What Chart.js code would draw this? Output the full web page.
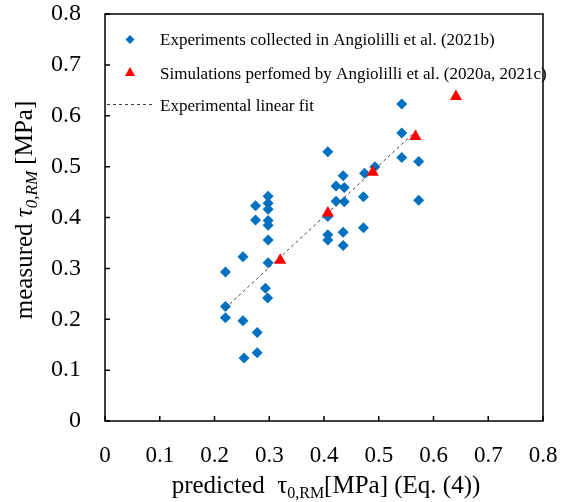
<!DOCTYPE html>
<html>
<head>
<meta charset="utf-8">
<script src="https://cdn.jsdelivr.net/npm/chart.js@4.4.0/dist/chart.umd.min.js"></script>
<style>
  html, body { margin: 0; padding: 0; background: #fff; }
  #wrap { width: 562px; height: 502px; }
</style>
</head>
<body>
<div id="wrap"><canvas id="chart"></canvas></div>
<script>
// values
const expX = [0.298, 0.275, 0.298, 0.298, 0.275, 0.298, 0.298, 0.298, 0.252, 0.298,
              0.220, 0.293, 0.297, 0.220, 0.220, 0.252, 0.278, 0.278, 0.254,
              0.542, 0.542, 0.407, 0.542, 0.573, 0.493, 0.474, 0.435, 0.422, 0.437,
              0.472, 0.422, 0.437, 0.573, 0.407, 0.472, 0.435, 0.407, 0.407, 0.435];
const expY = [0.442, 0.423, 0.428, 0.416, 0.395, 0.394, 0.385, 0.356, 0.323, 0.311,
              0.293, 0.261, 0.242, 0.225, 0.203, 0.197, 0.174, 0.134, 0.124,
              0.623, 0.566, 0.529, 0.518, 0.510, 0.500, 0.487, 0.482, 0.462, 0.459,
              0.441, 0.432, 0.431, 0.434, 0.402, 0.380, 0.371, 0.366, 0.356, 0.345];
const simX = [0.320, 0.407, 0.489, 0.567, 0.641];
const simY = [0.316, 0.409, 0.489, 0.559, 0.638];
const fitX = [0.220, 0.569];
const fitY = [0.222, 0.571];
const axisTicks = [0, 0.1, 0.2, 0.3, 0.4, 0.5, 0.6, 0.7, 0.8];

const legendLabels = [
  'Experiments collected in Angiolilli et al. (2021b)',
  'Simulations perfomed by Angiolilli et al. (2020a, 2021c)',
  'Experimental linear fit'
];

const SERIF = '"Liberation Serif", "Times New Roman", serif';
const BLUE = '#0070C0';
const RED = '#FF0000';

const toPoints = (xs, ys) => xs.map((x, i) => ({ x: x, y: ys[i] }));

// frame, inward ticks, legend and axis titles
const decorations = {
  id: 'decorations',
  afterDraw(chart) {
    const ctx = chart.ctx;
    const a = chart.chartArea;
    const xs = chart.scales.x;
    const ys = chart.scales.y;
    ctx.save();

    ctx.strokeStyle = '#000';
    ctx.lineWidth = 1.5;
    ctx.strokeRect(a.left, a.top, a.right - a.left, a.bottom - a.top);
    ctx.beginPath();
    axisTicks.forEach(v => {
      const px = xs.getPixelForValue(v);
      ctx.moveTo(px, a.bottom); ctx.lineTo(px, a.bottom - 5);
      const py = ys.getPixelForValue(v);
      ctx.moveTo(a.left, py); ctx.lineTo(a.left + 5, py);
    });
    ctx.stroke();

    // legend
    ctx.font = '17px ' + SERIF;
    ctx.textBaseline = 'alphabetic';
    ctx.textAlign = 'left';
    const lx = a.left + 25;
    const tx = a.left + 55;

    ctx.fillStyle = BLUE;
    ctx.beginPath();
    ctx.moveTo(lx, a.top + 21); ctx.lineTo(lx + 4.5, a.top + 25.5);
    ctx.lineTo(lx, a.top + 30); ctx.lineTo(lx - 4.5, a.top + 25.5);
    ctx.closePath(); ctx.fill();
    ctx.fillStyle = '#000';
    ctx.fillText(legendLabels[0], tx, a.top + 31);

    ctx.fillStyle = RED;
    ctx.beginPath();
    ctx.moveTo(lx, a.top + 53); ctx.lineTo(lx + 5, a.top + 62);
    ctx.lineTo(lx - 5, a.top + 62);
    ctx.closePath(); ctx.fill();
    ctx.fillStyle = '#000';
    ctx.fillText(legendLabels[1], tx, a.top + 65);

    ctx.strokeStyle = '#404040';
    ctx.lineWidth = 1;
    ctx.setLineDash([3, 3]);
    ctx.beginPath();
    ctx.moveTo(a.left + 2, a.top + 90.5); ctx.lineTo(a.left + 50, a.top + 90.5);
    ctx.stroke();
    ctx.setLineDash([]);
    ctx.fillText(legendLabels[2], tx, a.top + 97);

    // x title
    const xParts = [
      ['predicted  ', '25px ' + SERIF, 0],
      ['\u03C4', '25px ' + SERIF, 0],
      ['0,RM', '16px ' + SERIF, 5],
      ['[MPa] (Eq. (4))', '25px ' + SERIF, 0]
    ];
    drawParts(ctx, xParts, 326, 493);

    // y title
    ctx.save();
    ctx.translate(32, 210);
    ctx.rotate(-Math.PI / 2);
    const yParts = [
      ['measured ', '25px ' + SERIF, 0],
      ['\u03C4', 'italic 25px ' + SERIF, 0],
      ['0,RM', 'italic 17px ' + SERIF, 5],
      [' [MPa]', '25px ' + SERIF, 0]
    ];
    drawParts(ctx, yParts, 0, 0);
    ctx.restore();

    ctx.restore();
  }
};

function drawParts(ctx, parts, cx, baseline) {
  let total = 0;
  parts.forEach(p => { ctx.font = p[1]; total += ctx.measureText(p[0]).width; });
  let x = cx - total / 2;
  ctx.textAlign = 'left';
  ctx.fillStyle = '#000';
  parts.forEach(p => {
    ctx.font = p[1];
    ctx.fillText(p[0], x, baseline + p[2]);
    x += ctx.measureText(p[0]).width;
  });
}

new Chart(document.getElementById('chart'), {
  type: 'scatter',
  data: {
    datasets: [
      {
        label: legendLabels[1],
        data: toPoints(simX, simY),
        pointStyle: 'triangle',
        pointRadius: 7,
        backgroundColor: RED,
        borderColor: RED,
        borderWidth: 0,
        order: 0
      },
      {
        label: legendLabels[2],
        data: toPoints(fitX, fitY),
        showLine: true,
        borderColor: '#404040',
        borderWidth: 1,
        borderDash: [3, 3],
        pointRadius: 0,
        order: 1
      },
      {
        label: legendLabels[0],
        data: toPoints(expX, expY),
        pointStyle: 'rectRot',
        pointRadius: 5.5,
        backgroundColor: BLUE,
        borderColor: BLUE,
        borderWidth: 0,
        order: 2
      }
    ]
  },
  options: {
    responsive: true,
    maintainAspectRatio: false,
    animation: false,
    layout: { padding: { top: 14, right: 19, left: 0, bottom: 0 } },
    plugins: {
      legend: { display: false },
      tooltip: { enabled: false }
    },
    scales: {
      x: {
        type: 'linear',
        min: 0,
        max: 0.8,
        afterBuildTicks: s => { s.ticks = axisTicks.map(v => ({ value: v })); },
        afterFit: s => { s.height = 81; s.paddingLeft = 0; s.paddingRight = 0; },
        grid: { display: false },
        border: { display: false },
        ticks: {
          padding: 13,
          color: '#000',
          font: { family: SERIF, size: 23 },
          callback: v => String(Math.round(v * 10) / 10)
        }
      },
      y: {
        type: 'linear',
        min: 0,
        max: 0.8,
        afterBuildTicks: s => { s.ticks = axisTicks.map(v => ({ value: v })); },
        afterFit: s => { s.width = 105; s.paddingTop = 0; s.paddingBottom = 0; },
        grid: { display: false },
        border: { display: false },
        ticks: {
          padding: 16,
          color: '#000',
          font: { family: SERIF, size: 24 },
          callback: v => String(Math.round(v * 10) / 10)
        }
      }
    }
  },
  plugins: [decorations]
});
</script>
</body>
</html>
